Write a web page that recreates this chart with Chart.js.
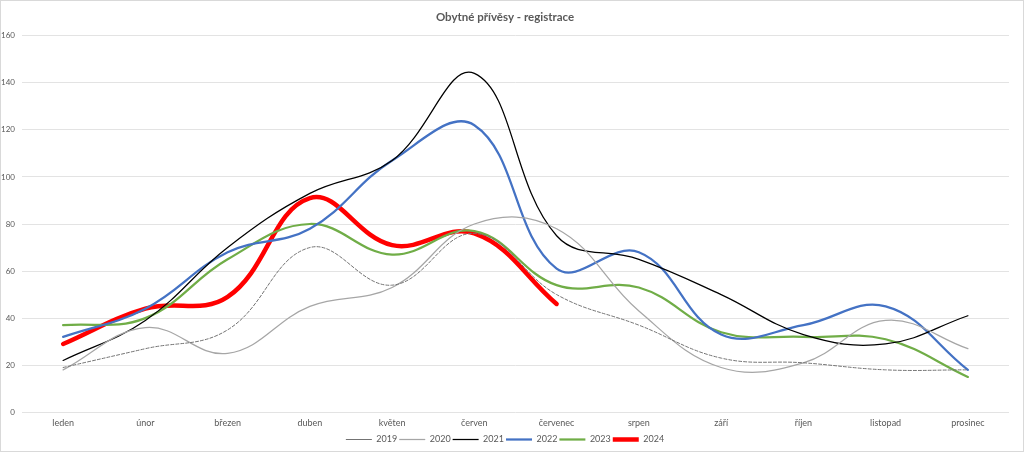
<!DOCTYPE html>
<html lang="cs">
<head>
<meta charset="utf-8">
<title>Obytné přívěsy - registrace</title>
<script src="https://cdn.jsdelivr.net/npm/chart.js@4/dist/chart.umd.min.js"></script>
<style>
    html, body { margin: 0; padding: 0; background: #fff; }
    #wrap {
        width: 1024px;
        height: 452px;
        box-sizing: border-box;
        border: 1px solid #d9d9d9;
        position: relative;
    }
</style>
</head>
<body>
<div id="wrap"><canvas id="lineChart"></canvas></div>
<script>
// data
const months = ["leden", "únor", "březen", "duben", "květen", "červen",
    "červenec", "srpen", "září", "říjen", "listopad", "prosinec"];
const yearLabels = ["2019", "2020", "2021", "2022", "2023", "2024"];
const y2019 = [19, 27, 35, 70, 54, 76, 50, 37, 23, 21, 18, 18];
const y2020 = [18, 36, 25, 45, 53, 80, 78, 43, 19, 21, 39, 27];
const y2021 = [22, 39, 70, 93, 107, 144, 75, 65, 50, 33, 29, 41];
const y2022 = [32, 44, 68, 78, 107, 122, 61, 68, 33, 37, 45, 18];
const y2023 = [37, 40, 65, 80, 67, 77, 54, 53, 34, 32, 31, 15];
const y2024 = [29, 44, 49, 91, 71, 76, 46];
const yTicks = [0, 20, 40, 60, 80, 100, 120, 140, 160];

document.addEventListener("DOMContentLoaded", function () {
    const font = "Lato, 'Liberation Sans', sans-serif";
    const grey = "#595959";

    function line(label, data, color, width, dash) {
        return {
            label: label,
            data: data,
            borderColor: color,
            backgroundColor: color,
            borderWidth: width,
            borderDash: dash || [],
            borderCapStyle: "round",
            pointRadius: 0,
            pointHoverRadius: 0,
            pointStyle: "line",
            tension: 0.4,
            fill: false,
        };
    }

    const ctx = document.getElementById("lineChart").getContext("2d");
    new Chart(ctx, {
        type: "line",
        data: {
            labels: months,
            datasets: [
                line(yearLabels[0], y2019, "#737373", 1, [3, 2]),
                line(yearLabels[1], y2020, "#a6a6a6", 1.25),
                line(yearLabels[2], y2021, "#000000", 1.25),
                line(yearLabels[3], y2022, "#4472c4", 2.25),
                line(yearLabels[4], y2023, "#70ad47", 2.25),
                line(yearLabels[5], y2024, "#ff0000", 4.5),
            ],
        },
        options: {
            responsive: true,
            maintainAspectRatio: false,
            animation: false,
            layout: {
                padding: { left: 0, right: 14, top: 0, bottom: -3 },
            },
            scales: {
                x: {
                    offset: true,
                    grid: { display: false, drawTicks: false },
                    border: { display: false },
                    ticks: {
                        color: grey,
                        padding: 5,
                        font: { family: font, size: 9 },
                        maxRotation: 0,
                    },
                },
                y: {
                    min: 0,
                    max: 160,
                    afterBuildTicks: function (axis) {
                        axis.ticks = yTicks.map(function (v) { return { value: v }; });
                    },
                    afterFit: function (axis) {
                        axis.width = 21;
                    },
                    grid: { color: "#e3e3e3", lineWidth: 1, drawTicks: false },
                    border: { display: false },
                    ticks: {
                        color: grey,
                        padding: 7,
                        font: { family: font, size: 8 },
                    },
                },
            },
            plugins: {
                title: {
                    display: true,
                    text: "Obytné přívěsy - registrace",
                    color: grey,
                    font: { family: font, size: 11.5, weight: "bold" },
                    padding: { top: 9, bottom: 12 },
                },
                legend: {
                    position: "bottom",
                    labels: {
                        color: grey,
                        font: { family: font, size: 9 },
                        usePointStyle: true,
                        pointStyleWidth: 26,
                        padding: 2,
                    },
                },
                tooltip: { enabled: false },
            },
        },
    });
});
</script>
</body>
</html>
